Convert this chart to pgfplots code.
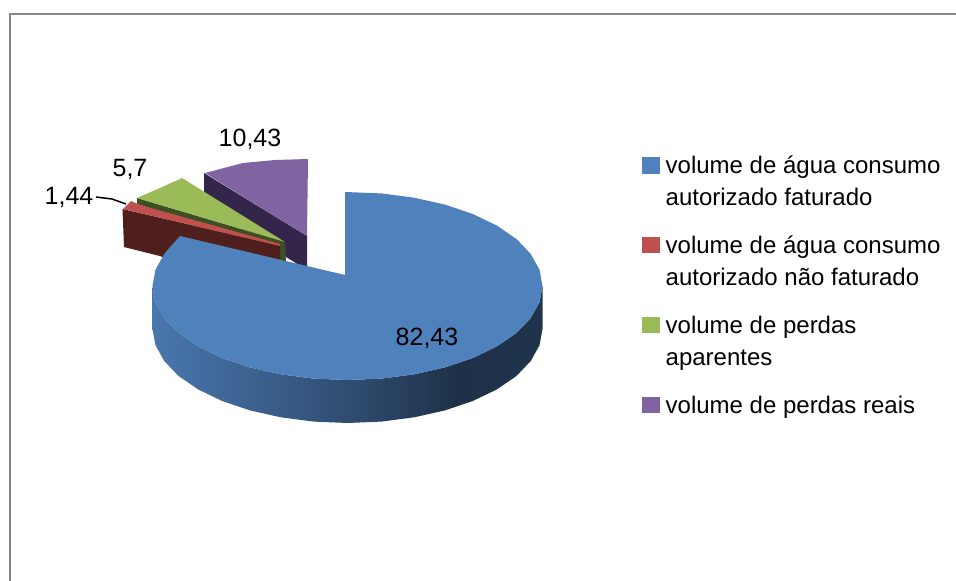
\documentclass[border=0pt]{standalone}
\usepackage{fontspec}
\setmainfont{Liberation Sans}
\usepackage{pgfplots}
\pgfplotsset{compat=1.18}
\definecolor{cblue}{HTML}{4F81BD}
\definecolor{cred}{HTML}{C0504D}
\definecolor{cgreen}{HTML}{9BBB59}
\definecolor{cpurple}{HTML}{8064A2}
\definecolor{dred}{HTML}{4F1F1E}
\definecolor{dgreen}{HTML}{3F4F24}
\definecolor{dpurple}{HTML}{33264A}
\definecolor{frameg}{HTML}{868686}
\pgfdeclarehorizontalshading{sideshade}{100bp}{color(0bp)=(cblue!92!black); color(25bp)=(cblue!92!black); color(50bp)=(cblue!60!black); color(64bp)=(cblue!38!black); color(75bp)=(cblue!40!black); color(100bp)=(cblue!40!black)}
\begin{document}
\begin{tikzpicture}
\begin{axis}[
  scale only axis, width=956pt, height=581pt,
  xmin=0, xmax=956, ymin=0, ymax=581, y dir=reverse,
  hide axis, clip=true,
  legend style={at={(axis cs:642,148)}, anchor=north west, draw=none, fill=none,
    row sep=51.5pt, inner xsep=0pt, inner ysep=0pt, font=\fontsize{24}{32}\selectfont},
  legend cell align=left,
  legend image code/.code={\path[draw=none,fill=none] (0pt,-1pt) rectangle (21.5pt,14.5pt); \fill[#1,overlay] (0pt,-10pt) rectangle (17pt,5.5pt);},
]
% legend entries
\addlegendimage{cblue}
\addlegendentry{\begin{tabular}[t]{@{}l@{}}volume de água consumo\\autorizado faturado\end{tabular}}
\addlegendimage{cred}
\addlegendentry{\begin{tabular}[t]{@{}l@{}}volume de água consumo\\autorizado não faturado\end{tabular}}
\addlegendimage{cgreen}
\addlegendentry{\begin{tabular}[t]{@{}l@{}}volume de perdas\\aparentes\end{tabular}}
\addlegendimage{cpurple}
\addlegendentry{\begin{tabular}[t]{@{}l@{}}volume de perdas reais\end{tabular}}
% page and frame
\addplot[forget plot, draw=none, fill=white] coordinates {(0,0)(956,0)(956,581)(0,581)} --cycle;
\addplot[forget plot, frameg, line width=1.5pt, no markers] coordinates {(10,581)(10,14)(956,14)};
% purple 10,43
\addplot[forget plot, draw=none, fill=dpurple] coordinates {(204,173)(307,236)(307,270)(204,206)} --cycle;
\addplot[forget plot, draw=none, fill=cpurple] coordinates {(308,159)(275,160)(243,163)(205,173)(307,236)} --cycle;
% green 5,7
\addplot[forget plot, draw=none, fill=dgreen] coordinates {(137,198)(285,242)(286,263)(280,262)(280,248)(137,204)} --cycle;
\addplot[forget plot, draw=none, fill=cgreen] coordinates {(137,198)(160,188)(182,178)(285,242)} --cycle;
% red 1,44
\addplot[forget plot, draw=none, fill=dred] coordinates {(122.5,209)(280,245.5)(280,264)(180,264)(160,256)(124,247)} --cycle;
\addplot[forget plot, draw=none, fill=cred] coordinates {(123,209)(131,201)(140,205)(280,244)(280,246)} --cycle;
% blue 82,43: side wall
\addplot[forget plot, draw=none, shading=sideshade] coordinates {
(542.5,286)(539.5,302.3)(530.7,318.1)(516.4,333)(496.9,346.4)(472.8,358)(445,367.4)(414.2,374.3)(381.4,378.6)(347.5,380)(313.6,378.6)(280.8,374.3)(250,367.4)(222.2,358)(198.1,346.4)(178.6,333)(164.3,318.1)(155.5,302.3)(152.5,286)
(152.5,329)(155.5,345.3)(164.3,361.1)(178.6,376)(198.1,389.4)(222.2,401)(250,410.4)(280.8,417.3)(313.6,421.6)(347.5,423)(381.4,421.6)(414.2,417.3)(445,410.4)(472.8,401)(496.9,389.4)(516.4,376)(530.7,361.1)(539.5,345.3)(542.5,329)
} --cycle;
% blue 82,43: top
\addplot[forget plot, draw=none, fill=cblue] coordinates {
(345,192)(381.4,193.4)(414.2,197.7)(445,204.6)(472.8,214)(496.9,225.6)(516.4,239)(530.7,253.9)(539.5,269.7)(542.5,286)(539.5,302.3)(530.7,318.1)(516.4,333)(496.9,346.4)(472.8,358)(445,367.4)(414.2,374.3)(381.4,378.6)(347.5,380)(313.6,378.6)(280.8,374.3)(250,367.4)(222.2,358)(198.1,346.4)(178.6,333)(164.3,318.1)(155.5,302.3)(152.5,286)(155.5,269.7)(164.3,253.9)(171,246)(180,236)(345,275)
} --cycle;
% leader line
\addplot[forget plot, black, line width=1.5pt, no markers] coordinates {(96,197)(112,199)(126,204)};
% labels
\node[font=\fontsize{25}{29}\selectfont] at (axis cs:427,338) {82,43};
\node[font=\fontsize{25}{29}\selectfont] at (axis cs:250,139) {10,43};
\node[font=\fontsize{25}{29}\selectfont] at (axis cs:130,169) {5,7};
\node[font=\fontsize{25}{29}\selectfont] at (axis cs:69,197) {1,44};
\end{axis}
\end{tikzpicture}
\end{document}
